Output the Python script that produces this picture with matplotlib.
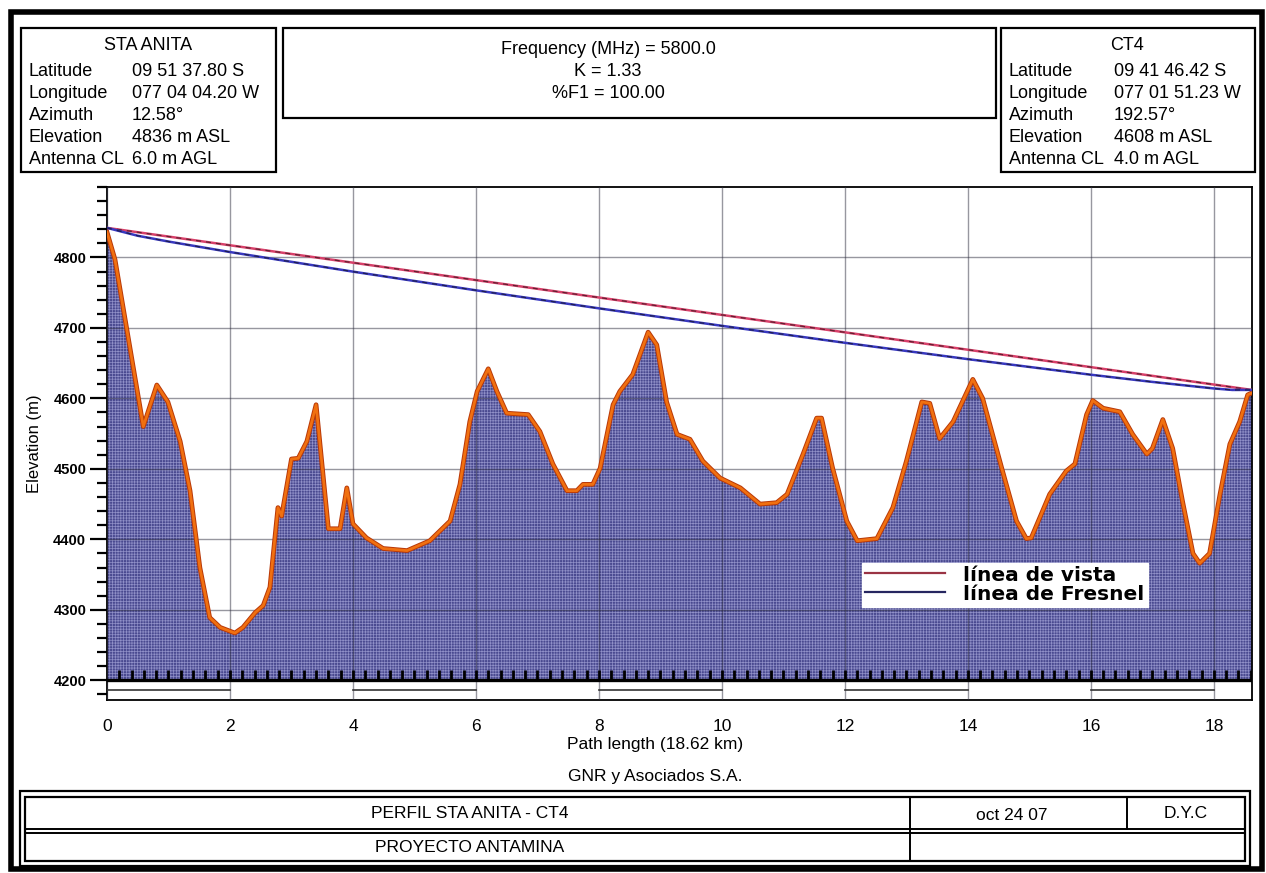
import matplotlib.pyplot as plt
import matplotlib.patheffects as pe
from matplotlib.lines import Line2D
from matplotlib.patches import Rectangle
from matplotlib.ticker import MultipleLocator
import numpy as np

plt.rcParams['font.family'] = ['Liberation Sans', 'DejaVu Sans']
plt.rcParams['hatch.linewidth'] = 0.5

W, H = 1266, 873

# terrain profile (km along path, m ASL)
dist_km = [0, 0.13, 0.59, 0.81, 0.99, 1.19, 1.35, 1.51, 1.67, 1.84, 2.08, 2.21,
           2.41, 2.54, 2.65, 2.78, 2.84, 3.0, 3.11, 3.25, 3.40, 3.6, 3.79, 3.9,
           4.0, 4.22, 4.49, 4.88, 5.25, 5.58, 5.74, 5.9, 6.02, 6.2, 6.34, 6.5,
           6.85, 7.04, 7.25, 7.48, 7.64, 7.74, 7.9, 8.02, 8.23, 8.34, 8.55, 8.8,
           8.94, 9.1, 9.27, 9.48, 9.69, 9.97, 10.3, 10.62, 10.89, 11.06, 11.32,
           11.54, 11.62, 11.8, 12.03, 12.2, 12.52, 12.78, 13.0, 13.25, 13.38,
           13.54, 13.76, 14.08, 14.24, 14.55, 14.79, 14.95, 15.03, 15.33, 15.6,
           15.74, 15.93, 16.03, 16.2, 16.47, 16.68, 16.91, 17.0, 17.17, 17.33,
           17.49, 17.66, 17.77, 17.93, 18.1, 18.26, 18.42, 18.55, 18.62]
elev_m = [4836, 4797, 4560, 4619, 4595, 4539, 4469, 4360, 4289, 4275, 4267, 4275,
          4296, 4306, 4332, 4445, 4433, 4514, 4515, 4539, 4591, 4415, 4415, 4473,
          4422, 4402, 4387, 4384, 4398, 4426, 4478, 4567, 4610, 4642, 4610, 4579,
          4577, 4553, 4507, 4469, 4469, 4478, 4478, 4501, 4591, 4610, 4634, 4694,
          4676, 4595, 4549, 4542, 4511, 4487, 4473, 4450, 4452, 4464, 4521,
          4572, 4572, 4501, 4426, 4398, 4401, 4445, 4511, 4595, 4593,
          4543, 4567, 4627, 4600, 4501, 4426, 4401, 4402, 4464, 4497,
          4507, 4577, 4597, 4586, 4581, 4549, 4521, 4529, 4570, 4529,
          4454, 4380, 4366, 4380, 4464, 4535, 4567, 4605, 4608]

# line of sight between antenna centre lines
los_km = [0, 18.62]
los_m = [4842, 4612]

# lower edge of the first Fresnel zone
fresnel_km = [0, 0.5, 1, 2, 4, 6, 8, 10, 12, 14, 16, 17, 18, 18.3, 18.62]
fresnel_m = [4842, 4830.8, 4822.6, 4807.7, 4779.9, 4753.4, 4727.8, 4703.0,
             4678.9, 4655.7, 4633.6, 4623.4, 4614.1, 4612.0, 4612]

y_ticks = [4200, 4300, 4400, 4500, 4600, 4700, 4800]
x_ticks = [0, 2, 4, 6, 8, 10, 12, 14, 16, 18]

row_labels = ['Latitude', 'Longitude', 'Azimuth', 'Elevation', 'Antenna CL']
site_a = 'STA ANITA'
site_a_values = ['09 51 37.80 S', '077 04 04.20 W', '12.58°', '4836 m ASL', '6.0 m AGL']
site_b = 'CT4'
site_b_values = ['09 41 46.42 S', '077 01 51.23 W', '192.57°', '4608 m ASL', '4.0 m AGL']
link_params = ['Frequency (MHz) = 5800.0', 'K = 1.33', '%F1 = 100.00']

fig = plt.figure(figsize=(W / 100, H / 100), dpi=100)

# sheet frame, header boxes and title block drawn in pixel units
bg = fig.add_axes([0, 0, 1, 1], zorder=0)
bg.set_xlim(0, W)
bg.set_ylim(H, 0)
bg.axis('off')

def box(x0, y0, x1, y1, lw=1.5):
    bg.add_patch(Rectangle((x0, y0), x1 - x0, y1 - y0, fill=False,
                           edgecolor='black', linewidth=lw))

box(11, 12, 1262, 869, lw=4)
box(21, 28, 276, 172, lw=1.6)
box(283, 28, 996, 118, lw=1.6)
box(1001, 28, 1255, 172, lw=1.6)

# title block
box(20, 791, 1250, 866, lw=1.6)
box(25, 797, 1245, 861, lw=1.6)
bg.plot([25, 1245], [829, 829], color='black', lw=1.4)
bg.plot([25, 1245], [833, 833], color='black', lw=1.4)
bg.plot([910, 910], [797, 861], color='black', lw=1.4)
bg.plot([1127, 1127], [797, 829], color='black', lw=1.4)

txt = dict(fontsize=13, color='black', va='center')
bg.text(148, 46, site_a, ha='center', **txt)
bg.text(1127, 46, site_b, ha='center', **txt)
row_y = [72, 94, 116, 138, 160]
for lab, va_, vb_, y in zip(row_labels, site_a_values, site_b_values, row_y):
    bg.text(29, y, lab, ha='left', **txt)
    bg.text(132, y, va_, ha='left', **txt)
    bg.text(1009, y, lab, ha='left', **txt)
    bg.text(1114, y, vb_, ha='left', **txt)
for s, y in zip(link_params, [50, 72, 94]):
    bg.text(608, y, s, ha='center', **txt)

narrow = dict(family=['Liberation Sans Narrow', 'Liberation Sans'], fontsize=12.5,
              va='center', ha='center')
bg.text(655, 745, 'Path length (18.62 km)', **narrow)
bg.text(655, 777, 'GNR y Asociados S.A.', **narrow)
bg.text(470, 814, 'PERFIL STA ANITA - CT4', **narrow)
bg.text(1012, 815, 'oct 24 07', **narrow)
bg.text(1186, 814, 'D.Y.C', **narrow)
bg.text(470, 848, 'PROYECTO ANTAMINA', **narrow)

# profile plot
ax = fig.add_axes([107 / W, 173 / H, (1252 - 107) / W, (700 - 187) / H], zorder=1)
ax.set_xlim(0, 18.62)
ax.set_ylim(4172, 4900)

ax.fill_between(dist_km, elev_m, 4200, facecolor='#4a4a90', edgecolor='#9090c8',
                hatch='++++++', linewidth=0, zorder=1)
ax.plot(dist_km, elev_m, color='#f07010', lw=2.0, zorder=3,
        path_effects=[pe.Stroke(linewidth=3.4, foreground='#b83808'), pe.Normal()])

ax.plot(los_km, los_m, color='#d8406a', lw=1.8, zorder=4)
ax.plot(los_km, los_m, color='#602030', lw=0.9, dashes=(4, 4), zorder=4)
ax.plot(fresnel_km, fresnel_m, color='#3838c0', lw=1.8, zorder=4)
ax.plot(fresnel_km, fresnel_m, color='#202050', lw=0.9, dashes=(4, 4), zorder=4)

# baseline with comb ticks and the km scale strip beneath it
ax.axhline(4200, color='black', lw=2.4, zorder=5)
comb = np.arange(0.2, 18.62, 0.2)
ax.vlines(comb, 4200, 4214, color='black', lw=2.0, zorder=5)
for x0 in x_ticks[::2]:
    ax.plot([x0, min(x0 + 2, 18.62)], [4186, 4186], color='#333333', lw=1.2, zorder=5)

ax.set_xticks(x_ticks)
ax.set_yticks(y_ticks)
ax.yaxis.set_minor_locator(MultipleLocator(20))
ax.tick_params(axis='x', length=0, pad=14, labelsize=12.5)
for t in ax.get_xticklabels():
    t.set_family(['Liberation Sans Narrow', 'Liberation Sans'])
ax.tick_params(axis='y', which='major', direction='out', length=12, width=1.6,
               labelsize=10.5, pad=3)
ax.tick_params(axis='y', which='minor', direction='out', length=7, width=1.6)
for t in ax.get_yticklabels():
    t.set_fontweight('bold')
ax.set_ylabel('Elevation (m)', fontsize=12, labelpad=8)

ax.set_axisbelow(False)
ax.grid(True, which='major', color='#303040', alpha=0.5, lw=1.0)
for sp in ax.spines.values():
    sp.set_linewidth(1.3)

handles = [Line2D([], [], color='#9a3444', lw=1.6),
           Line2D([], [], color='#262660', lw=1.6)]
leg = ax.legend(handles, ['línea de vista', 'línea de Fresnel'],
                loc='upper left', bbox_to_anchor=(0.659, 0.268), borderaxespad=0,
                frameon=True, fancybox=False, framealpha=1, handlelength=4.0,
                handletextpad=0.9, labelspacing=0.0, borderpad=0.15,
                prop=dict(family='DejaVu Sans', weight='bold', size=14.5))
leg.get_frame().set_edgecolor('white')
leg.set_zorder(6)

fig.savefig('out.png', dpi=100, facecolor='white')
